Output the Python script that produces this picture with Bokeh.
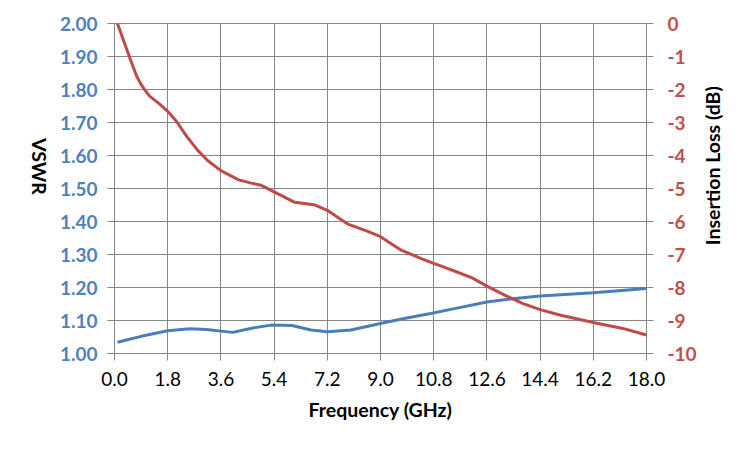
import math
from bokeh.plotting import figure
from bokeh.layouts import row
from bokeh.models import Range1d, LinearAxis, FixedTicker, NumeralTickFormatter
from bokeh.core.properties import value
from bokeh.embed import file_html
from bokeh.resources import INLINE

# Insertion loss (dB), right axis
il_freq = [0.1, 0.3, 0.55, 0.75, 0.87, 1.0, 1.1, 1.2, 1.5, 1.8, 2.1, 2.45, 2.8, 3.15, 3.6,
           4.2, 4.6, 4.95, 5.4, 6.1, 6.75, 7.2, 7.9, 8.55, 9.0, 9.7, 10.4, 10.8, 11.5, 12.1,
           12.6, 13.2, 13.8, 14.4, 15.1, 16.2, 17.2, 18.0]
il_db = [0.0, -0.5, -1.12, -1.6, -1.8, -1.98, -2.1, -2.21, -2.42, -2.66, -2.97, -3.43, -3.83,
         -4.15, -4.46, -4.74, -4.83, -4.9, -5.1, -5.42, -5.49, -5.66, -6.08, -6.29, -6.46,
         -6.87, -7.13, -7.27, -7.5, -7.71, -7.96, -8.23, -8.48, -8.67, -8.84, -9.06, -9.24,
         -9.44]

# VSWR, left axis
vswr_freq = [0.1, 0.9, 1.8, 2.55, 3.1, 4.0, 4.6, 5.3, 6.0, 6.65, 7.2, 8.0, 9.0, 9.8, 10.7,
             11.5, 12.6, 13.55, 14.4, 16.2, 18.0]
vswr = [1.034, 1.052, 1.069, 1.075, 1.073, 1.064, 1.076, 1.086, 1.085, 1.071, 1.066, 1.071,
        1.091, 1.106, 1.121, 1.136, 1.156, 1.167, 1.174, 1.184, 1.197]

x_ticks = [0.0, 1.8, 3.6, 5.4, 7.2, 9.0, 10.8, 12.6, 14.4, 16.2, 18.0]
vswr_ticks = [1.0, 1.1, 1.2, 1.3, 1.4, 1.5, 1.6, 1.7, 1.8, 1.9, 2.0]
il_ticks = [0, -1, -2, -3, -4, -5, -6, -7, -8, -9, -10]

x_title = "Frequency (GHz)"
left_title = "VSWR"
right_title = "Insertion Loss (dB)"

GRID = "#868686"
BLUE = "#4A7EBB"
RED = "#BE4B48"
BLUE_T = "#4F81BD"
RED_T = "#C0504D"
FONT = "Lato"

H = 434
LEFT_W = 52
MAIN_W = 648
RIGHT_W = 34

p = figure(width=MAIN_W, height=H, output_backend="svg", toolbar_location=None,
           x_range=Range1d(0, 18), y_range=Range1d(1.0, 2.0),
           min_border_left=62, min_border_right=54, min_border_top=23, min_border_bottom=81)
p.extra_y_ranges = {"il": Range1d(-10, 0)}
p.outline_line_color = GRID
p.background_fill_color = "white"
p.border_fill_color = "white"

p.line(vswr_freq, vswr, line_color=BLUE, line_width=3)
p.line(il_freq, il_db, line_color=RED, line_width=3, y_range_name="il")

# x axis
xa = p.xaxis[0]
xa.ticker = FixedTicker(ticks=x_ticks)
xa.formatter = NumeralTickFormatter(format="0.0")
xa.axis_label = x_title

# left axis
ya = p.yaxis[0]
ya.ticker = FixedTicker(ticks=vswr_ticks)
ya.formatter = NumeralTickFormatter(format="0.00")
ya.major_label_text_color = BLUE_T
ya.major_label_text_font_style = "bold"

# right axis
ra = LinearAxis(y_range_name="il", ticker=FixedTicker(ticks=il_ticks),
                formatter=NumeralTickFormatter(format="0"))
ra.major_label_text_color = RED_T
ra.major_label_text_font_style = "bold"
p.add_layout(ra, "right")

for ax in [xa, ya, ra]:
    ax.axis_line_color = GRID
    ax.major_tick_line_color = GRID
    ax.major_tick_in = 0
    ax.major_tick_out = 7
    ax.minor_tick_line_color = None
    ax.major_label_text_font = FONT
    ax.major_label_text_font_size = "19px"
    ax.axis_label_text_font = FONT
    ax.axis_label_text_font_size = "19.5px"
    ax.axis_label_text_font_style = "bold"
    ax.axis_label_text_color = "black"

xa.major_label_text_color = "black"
xa.major_label_standoff = 11
xa.axis_label_standoff = 9
ya.major_label_standoff = 10
ra.major_label_standoff = 14

p.xgrid.ticker = FixedTicker(ticks=x_ticks)
p.ygrid.ticker = FixedTicker(ticks=vswr_ticks)
p.xgrid.grid_line_color = GRID
p.ygrid.grid_line_color = GRID
p.xgrid.grid_line_width = 1
p.ygrid.grid_line_width = 1


def title_strip(width, text, sx, sy, angle):
    # narrow strip in pixel units holding one rotated axis title
    f = figure(width=width, height=H, output_backend="svg", toolbar_location=None,
               x_range=Range1d(0, width), y_range=Range1d(0, H),
               x_axis_type=None, y_axis_type=None, min_border=0)
    f.outline_line_color = None
    f.background_fill_color = "white"
    f.border_fill_color = "white"
    f.text(x=[sx], y=[H - sy], text=[text], angle=angle, text_align="center",
           text_baseline="middle", text_font=value(FONT), text_font_size="19.5px",
           text_font_style="bold", text_color="black")
    return f


left_strip = title_strip(LEFT_W, left_title, 38.5, 188, -math.pi / 2)
right_strip = title_strip(RIGHT_W, right_title, 11.5, 187, math.pi / 2)

layout = row(left_strip, p, right_strip)

open("out.html", "w").write(file_html(layout, INLINE))
